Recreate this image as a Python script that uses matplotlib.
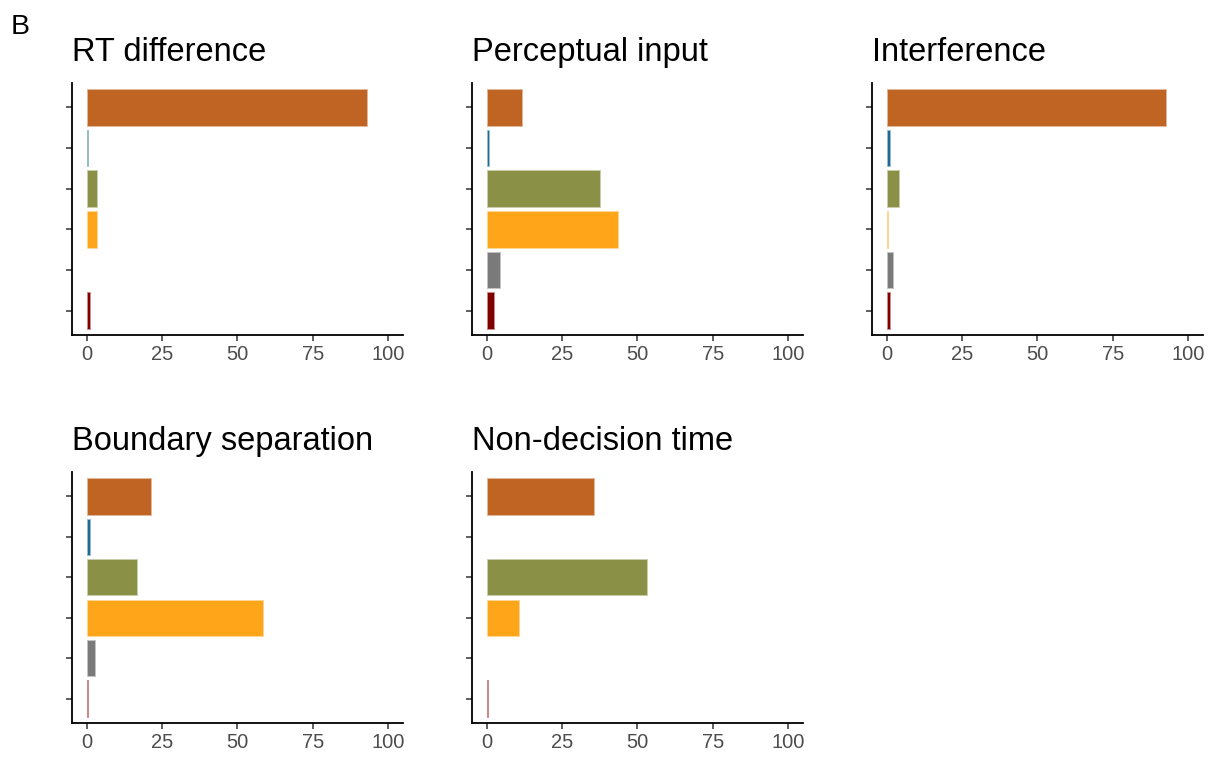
import matplotlib.pyplot as plt
import numpy as np
from matplotlib.colors import to_rgb

plt.rcParams["font.family"] = ["Liberation Sans", "DejaVu Sans"]

# panel titles and per-category percentages (top bar first)
titles = ["RT difference", "Perceptual input", "Interference",
          "Boundary separation", "Non-decision time"]
rt_difference = [92.9, 0.3, 3.3, 3.3, 0.0, 1.1]
perceptual_input = [11.6, 0.7, 37.7, 43.7, 4.5, 2.5]
interference = [92.5, 1.0, 4.2, 0.3, 2.1, 1.0]
boundary_separation = [21.2, 1.0, 16.7, 58.6, 2.7, 0.5]
non_decision_time = [35.7, 0.0, 53.3, 10.7, 0.0, 0.4]
panels = [rt_difference, perceptual_input, interference,
          boundary_separation, non_decision_time]

colors = ["#C06424", "#1F6A94", "#8A9046", "#FFA51A", "#7A7A7A", "#800000"]
xticks = [0, 25, 50, 75, 100]

# light tint of each fill for the bar outline
edges = [tuple(0.45 * v + 0.55 for v in to_rgb(c)) for c in colors]

fig = plt.figure(figsize=(12.2, 7.6), dpi=100)

lefts = [71.7, 471.7, 871.7]
width = 331.5
rows = [(83, 335), (472, 723)]

for i, (title, vals) in enumerate(zip(titles, panels)):
    r, c = divmod(i, 3)
    top, bot = rows[r]
    ax = fig.add_axes([lefts[c] / 1220, 1 - bot / 760, width / 1220, (bot - top) / 760])
    ypos = np.arange(len(vals))[::-1] + 1
    lw = [0.7 if v > 0 else 0 for v in vals]
    ax.barh(ypos, vals, height=0.9, color=colors, edgecolor=edges, linewidth=lw)
    ax.set_xlim(-5, 105)
    ax.set_ylim(0.4, 6.6)
    ax.set_yticks(ypos)
    ax.set_yticklabels([])
    ax.set_xticks(xticks)
    ax.set_xticklabels([str(t) for t in xticks], fontsize=14.5, color="#4D4D4D")
    ax.tick_params(axis="both", length=4, width=1.1, color="#333333")
    for s in ["top", "right"]:
        ax.spines[s].set_visible(False)
    for s in ["left", "bottom"]:
        ax.spines[s].set_linewidth(1.3)
    ax.set_title(title, loc="left", fontsize=23.5, pad=16)

fig.text(11 / 1220, 1 - 34 / 760, "B", fontsize=20.5)

plt.savefig("out.png", dpi=100)
